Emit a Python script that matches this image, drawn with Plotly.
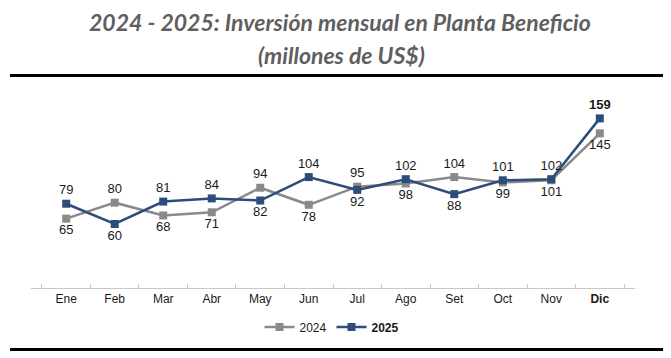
import plotly.graph_objects as go

months = ["Ene", "Feb", "Mar", "Abr", "May", "Jun", "Jul", "Ago", "Set", "Oct", "Nov", "Dic"]
tick_labels = ["Ene", "Feb", "Mar", "Abr", "May", "Jun", "Jul", "Ago", "Set", "Oct", "Nov", "<b>Dic</b>"]
values_2024 = [65, 80, 68, 71, 94, 78, 95, 98, 104, 99, 101, 145]
values_2025 = [79, 60, 81, 84, 82, 104, 92, 102, 88, 101, 102, 159]

# page has an 8px body margin; the figure is sized to fill the rest of the window
OFF = 8
W, H = 671 - OFF, 358 - OFF
ML, MR, MT, MB = 31 - OFF, 36, 96 - OFF, 70
narrow = "Liberation Sans Narrow, Arial Narrow, Arial, sans-serif"

def positions(a, b):
    return ["top center" if x >= y else "bottom center" for x, y in zip(a, b)]

text_2024 = [str(v) for v in values_2024]
text_2025 = [str(v) for v in values_2025]
text_2025[-1] = "<b>%d</b>" % values_2025[-1]

def px_x(x):
    return (x - OFF - ML) / (W - ML - MR)

def px_y(y):
    return (H - MB - (y - OFF)) / (H - MT - MB)

fig = go.Figure()
fig.add_trace(go.Scatter(
    x=months, y=values_2024, name="2024", mode="lines+markers+text",
    line=dict(color="#8a8a8a", width=2.5),
    marker=dict(symbol="square", size=8, color="#8a8a8a"),
    text=text_2024, textposition=positions(values_2024, values_2025),
    textfont=dict(family=narrow, size=13, color="#1a1a1a"),
))
fig.add_trace(go.Scatter(
    x=months, y=values_2025, name="<b>2025</b>", mode="lines+markers+text",
    line=dict(color="#2c4d7a", width=2.5),
    marker=dict(symbol="square", size=8, color="#2c4d7a"),
    text=text_2025, textposition=positions(values_2025, values_2024),
    textfont=dict(family=narrow, size=13, color="#1a1a1a"),
))

title_font = dict(family="Lato, Open Sans, sans-serif", size=23, color="#5f5f5f")
fig.update_layout(
    width=W, height=H,
    margin=dict(l=ML, r=MR, t=MT, b=MB, autoexpand=False),
    paper_bgcolor="white", plot_bgcolor="white",
    showlegend=True,
    legend=dict(orientation="h", x=px_x(332), xanchor="center", y=1 - (327 - OFF) / H, yanchor="middle",
                yref="container",
                font=dict(family=narrow, size=12, color="#1a1a1a"),
                itemwidth=30, tracegroupgap=0),
    xaxis=dict(type="category", tickmode="array", tickvals=months, ticktext=tick_labels,
               showline=True, linecolor="#c8c8c8", linewidth=1, automargin=False,
               ticks="inside", tickson="boundaries", ticklen=4, tickcolor="#c8c8c8",
               showgrid=False, zeroline=False,
               tickfont=dict(family=narrow, size=12, color="#1a1a1a")),
    yaxis=dict(range=[0, 180], visible=False, showgrid=False, zeroline=False),
    annotations=[
        dict(text="<b><i>2024 - 2025: Inversión mensual en Planta Beneficio</i></b>",
             x=px_x(340), y=px_y(22), xref="paper", yref="paper", yanchor="middle",
             showarrow=False, font=title_font),
        dict(text="<b><i>(millones de US$)</i></b>",
             x=px_x(341), y=px_y(55), xref="paper", yref="paper", yanchor="middle",
             showarrow=False, font=title_font),
    ],
)

fig.add_shape(type="line", xref="paper", yref="paper",
              x0=px_x(10), x1=px_x(663), y0=px_y(75.5), y1=px_y(75.5),
              line=dict(color="black", width=3))
fig.add_shape(type="line", xref="paper", yref="paper",
              x0=px_x(10), x1=px_x(663), y0=px_y(349.5), y1=px_y(349.5),
              line=dict(color="black", width=3))

fig.write_html("out.html")
